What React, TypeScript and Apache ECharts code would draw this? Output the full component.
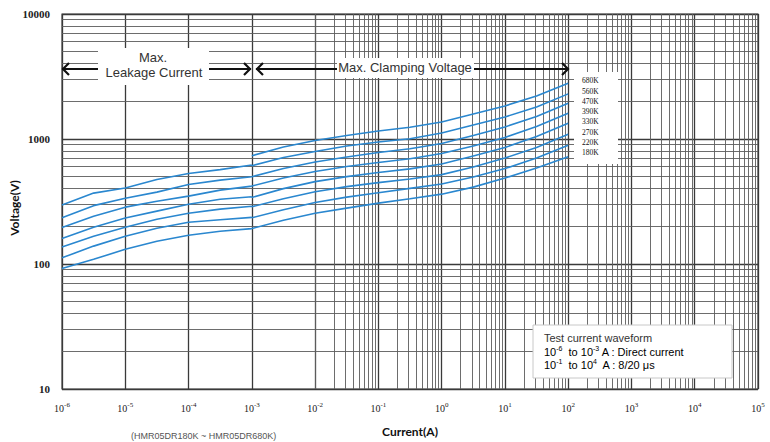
import React, { useEffect, useRef } from "react";
import * as echarts from "echarts";

const ratings = ["680K", "560K", "470K", "390K", "330K", "270K", "220K", "180K"];
const leakageCurrent = [1e-6, 3.16e-6, 1e-5, 3.16e-5, 1e-4, 3.16e-4, 1e-3];
const clampingCurrent = [1e-3, 3.16e-3, 1e-2, 3.16e-2, 1e-1, 3.16e-1, 1, 3.16, 10, 31.6, 100];

const leakage680K: number[] = [];
const leakage560K = [296, 369, 405, 474, 529, 569, 619];
const leakage470K = [234, 293, 336, 376, 432, 469, 499];
const leakage390K = [196, 241, 285, 318, 349, 390, 420];
const leakage330K = [160, 197, 233, 265, 301, 330, 345];
const leakage270K = [137, 167, 197, 228, 255, 275, 290];
const leakage220K = [112, 139, 167, 193, 216, 226, 236];
const leakage180K = [92, 109, 131, 152, 170, 183, 192];

const clamping680K = [735, 863, 973, 1067, 1159, 1241, 1369, 1587, 1839, 2212, 2797];
const clamping560K = [611, 711, 794, 879, 946, 1004, 1117, 1295, 1501, 1806, 2296];
const clamping470K = [499, 580, 654, 717, 779, 836, 920, 1067, 1248, 1515, 1933];
const clamping390K = [420, 487, 549, 602, 648, 694, 765, 879, 1028, 1260, 1608];
const clamping330K = [341, 401, 456, 500, 539, 577, 630, 731, 855, 1047, 1336];
const clamping270K = [287, 333, 379, 416, 448, 478, 519, 596, 704, 855, 1091];
const clamping220K = [234, 272, 310, 343, 372, 403, 436, 496, 580, 704, 890];
const clamping180K = [192, 224, 255, 280, 307, 333, 362, 412, 487, 585, 721];

const leakageSets = [leakage680K, leakage560K, leakage470K, leakage390K, leakage330K, leakage270K, leakage220K, leakage180K];
const clampingSets = [clamping680K, clamping560K, clamping470K, clamping390K, clamping330K, clamping270K, clamping220K, clamping180K];

const xDecadeExponents = [-6, -5, -4, -3, -2, -1, 0, 1, 2, 3, 4];
const yDecadeExponents = [1, 2, 3];
const gridMultipliers = [2, 3, 4, 5, 6, 7, 8, 9];

const FONT_SANS = "Liberation Sans, Arial, sans-serif";
const FONT_SERIF = "Liberation Serif, Times New Roman, serif";
const FONT_TITLE = "Lato, Liberation Sans, Arial, sans-serif";

function arrowGraphics(x1: number, x2: number, y: number, headLeft: boolean, headRight: boolean) {
  const items: any[] = [
    { type: "line", shape: { x1, y1: y, x2, y2: y }, style: { stroke: "#111", lineWidth: 2 }, z: 100 },
  ];
  if (headLeft) {
    items.push({
      type: "polyline",
      shape: { points: [[x1 + 7, y - 6], [x1 + 1, y], [x1 + 7, y + 6]] },
      style: { stroke: "#111", lineWidth: 2.2, fill: null },
      z: 100,
    });
  }
  if (headRight) {
    items.push({
      type: "polyline",
      shape: { points: [[x2 - 7, y - 6], [x2 - 1, y], [x2 - 7, y + 6]] },
      style: { stroke: "#111", lineWidth: 2.2, fill: null },
      z: 100,
    });
  }
  return items;
}

const supRich = {
  n: { fontFamily: FONT_SANS, fontSize: 11, color: "#333", lineHeight: 12, verticalAlign: "bottom" },
  s: { fontFamily: FONT_SANS, fontSize: 7, color: "#333", lineHeight: 9, verticalAlign: "top" },
};

export default function App() {
  const ref = useRef<HTMLDivElement>(null);

  useEffect(() => {
    if (!ref.current) return;
    const chart = echarts.init(ref.current, undefined, { renderer: "svg" });

    const minorLines: any[] = [];
    xDecadeExponents.forEach((e) => {
      gridMultipliers.forEach((m) => minorLines.push({ xAxis: m * Math.pow(10, e) }));
    });
    yDecadeExponents.forEach((e) => {
      gridMultipliers.forEach((m) => minorLines.push({ yAxis: m * Math.pow(10, e) }));
    });

    const curveSeries = ratings.map((name, i) => {
      const data: any[] = [];
      leakageSets[i].forEach((v, j) => data.push([leakageCurrent[j], v]));
      if (leakageSets[i].length) data.push([leakageCurrent[leakageCurrent.length - 1], "-"]);
      clampingSets[i].forEach((v, j) => data.push([clampingCurrent[j], v]));
      return {
        name,
        type: "line",
        data,
        showSymbol: false,
        symbol: "none",
        connectNulls: false,
        smooth: false,
        z: 5,
        silent: true,
        lineStyle: { color: "#2a87cf", width: 1.6 },
      };
    });

    const labelY0 = 80.7;
    const labelStep = 10.3;

    const graphic: any[] = [
      ...arrowGraphics(62, 98, 69, true, false),
      ...arrowGraphics(209, 251, 69, false, true),
      { type: "rect", shape: { x: 98, y: 48, width: 111, height: 37 }, style: { fill: "#fff" }, z: 99 },
      { type: "text", x: 153, y: 57, style: { text: "Max.", font: `13px ${FONT_SANS}`, fill: "#333", align: "center", verticalAlign: "middle" }, z: 101 },
      { type: "text", x: 154, y: 72, style: { text: "Leakage Current", font: `13px ${FONT_SANS}`, fill: "#333", align: "center", verticalAlign: "middle" }, z: 101 },
      ...arrowGraphics(256, 569, 69, true, true),
      { type: "rect", shape: { x: 337, y: 58, width: 137, height: 20 }, style: { fill: "#fff" }, z: 101 },
      { type: "text", x: 405, y: 67.5, style: { text: "Max. Clamping Voltage", font: `13px ${FONT_SANS}`, fill: "#333", align: "center", verticalAlign: "middle" }, z: 102 },
      { type: "rect", shape: { x: 574, y: 72, width: 44, height: 92 }, style: { fill: "#fff" }, z: 99 },
      ...ratings.map((r, i) => ({
        type: "text",
        x: 582,
        y: labelY0 + i * labelStep,
        style: { text: r, font: `7.5px ${FONT_SERIF}`, fill: "#111", verticalAlign: "middle" },
        z: 101,
      })),
      { type: "rect", shape: { x: 533, y: 325, width: 199, height: 53 }, style: { fill: "#fff", stroke: "#c8c8c8", lineWidth: 1 }, z: 99 },
      {
        type: "text", x: 544, y: 338,
        style: { text: "Test current waveform", font: `11px ${FONT_SANS}`, fill: "#333", verticalAlign: "middle" },
        z: 101,
      },
      {
        type: "text", x: 544, y: 351,
        style: { text: "{n|10}{s|-6}{n|  to 10}{s|-3}{n| A : Direct current}", verticalAlign: "middle", rich: supRich },
        z: 101,
      },
      {
        type: "text", x: 544, y: 364,
        style: { text: "{n|10}{s|-1}{n|  to 10}{s|4}{n|  A : 8/20 μs}", verticalAlign: "middle", rich: supRich },
        z: 101,
      },
      {
        type: "text", x: 14, y: 208, rotation: Math.PI / 2,
        style: { text: "Voltage(V)", font: `bold 12px ${FONT_TITLE}`, fill: "#111", align: "center", verticalAlign: "middle" },
        z: 101,
      },
      {
        type: "text", x: 131, y: 431,
        style: { text: "(HMR05DR180K ~ HMR05DR680K)", font: `9px ${FONT_SANS}`, fill: "#555", verticalAlign: "top" },
        z: 101,
      },
    ];

    chart.setOption({
      animation: false,
      backgroundColor: "#fff",
      grid: {
        left: 62, right: 12, top: 14, bottom: 53,
        outerBoundsMode: "none",
        containLabel: false,
        show: true, borderColor: "#444", borderWidth: 1.2, backgroundColor: "transparent",
      },
      xAxis: {
        type: "log",
        logBase: 10,
        min: 1e-6,
        max: 1e5,
        interval: 1,
        name: "Current(A)",
        nameLocation: "middle",
        nameGap: 36,
        nameTextStyle: { fontFamily: FONT_TITLE, fontWeight: "bold", fontSize: 12, color: "#111" },
        axisLine: { show: false },
        axisTick: { show: false },
        splitLine: { show: true, lineStyle: { color: "#3a3a3a", width: 1.3 } },
        axisLabel: {
          margin: 12,
          formatter: (v: number) => {
            const e = Math.round(Math.log10(v));
            return `{b|10}{s|${e}}`;
          },
          rich: {
            b: { fontFamily: FONT_SERIF, fontSize: 10, color: "#222", lineHeight: 12, verticalAlign: "bottom" },
            s: { fontFamily: FONT_SERIF, fontSize: 7, color: "#222", lineHeight: 8, verticalAlign: "top" },
          },
        },
      },
      yAxis: {
        type: "log",
        logBase: 10,
        min: 10,
        max: 10000,
        interval: 1,
        axisLine: { show: false },
        axisTick: { show: false },
        splitLine: { show: true, lineStyle: { color: "#3a3a3a", width: 1.3 } },
        axisLabel: {
          margin: 12,
          fontFamily: FONT_SERIF,
          fontWeight: "bold",
          fontSize: 11,
          color: "#222",
          formatter: (v: number) => String(Math.round(v)),
        },
      },
      series: [
        {
          type: "line",
          data: [],
          silent: true,
          z: 1,
          markLine: {
            silent: true,
            symbol: "none",
            animation: false,
            label: { show: false },
            emphasis: { disabled: true },
            lineStyle: { color: "#5c5c5c", width: 0.9, type: "solid" },
            data: minorLines,
          },
        },
        ...curveSeries,
      ],
      graphic,
    });

    return () => chart.dispose();
  }, []);

  return <div ref={ref} style={{ position: "absolute", left: 0, top: 0, width: 770, height: 442 }} />;
}
